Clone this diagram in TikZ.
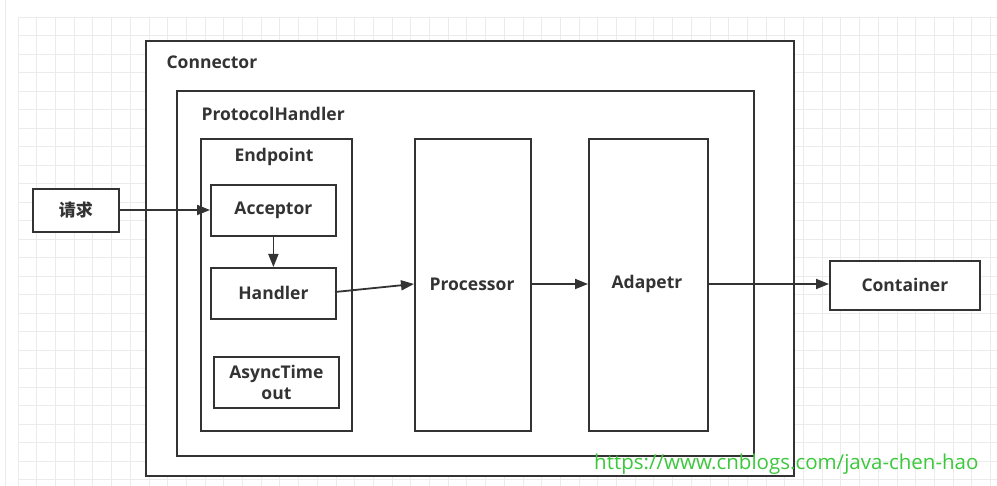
\documentclass[tikz,border=0pt]{standalone}
\usepackage{fontspec}
\setmainfont{Open Sans}
\newfontfamily\cjk{Noto Sans CJK SC}
\usetikzlibrary{arrows.meta}
\definecolor{gridc}{HTML}{EBEBEB}
\definecolor{urlg}{HTML}{3CC83C}
\definecolor{ink}{HTML}{333333}
\tikzset{
  box/.style={draw=ink,line width=1.8pt,fill=white,inner sep=0pt},
  lbl/.style={font=\fontsize{17.5}{20}\selectfont\bfseries,text=ink},
  conn/.style={draw=ink,line width=1.8pt,-{Triangle[length=13pt,width=10pt]}},
}
\begin{document}
\begin{tikzpicture}[x=1pt,y=-1pt]
\useasboundingbox (0,0) rectangle (997,486);
\fill[white] (0,0) rectangle (997,486);
% grid
\foreach \i in {0,...,52} {
  \pgfmathsetmacro{\xx}{18+\i*18.7}
  \draw[gridc,line width=0.8pt] (\xx,17) -- (\xx,486);
}
\foreach \j in {0,...,25} {
  \pgfmathsetmacro{\yy}{17+\j*18.5}
  \draw[gridc,line width=0.8pt] (18,\yy) -- (997,\yy);
}
\draw[gridc,line width=0.8pt] (5,0) -- (5,486);
% containers
\node[box,minimum width=648pt,minimum height=435pt,anchor=north west] (connector) at (145,40) {};
\node[lbl,anchor=west] (connlbl) at (163,62) {Connector};
\node[box,minimum width=577pt,minimum height=365pt,anchor=north west] (proto) at (176,90) {};
\node[lbl,anchor=west] (protolbl) at (198,114) {ProtocolHandler};
\node[box,minimum width=151pt,minimum height=292pt,anchor=north west] (endpoint) at (200,138) {};
\node[lbl] (endlbl) at (274,157) {Endpoint};
\node[box,minimum width=125pt,minimum height=51pt,anchor=north west] (acceptor) at (210,184) {};
\node[lbl] at (acceptor.center) {Acceptor};
\node[box,minimum width=125pt,minimum height=51pt,anchor=north west] (handler) at (210,267) {};
\node[lbl] at (handler.center) {Handler};
\node[box,minimum width=125pt,minimum height=51pt,anchor=north west] (async) at (213,356) {};
\node[lbl,align=center,font=\fontsize{17.5}{21}\selectfont\bfseries] at (async.center) {AsyncTime\\out};
\node[box,minimum width=116pt,minimum height=292pt,anchor=north west] (processor) at (414,138) {};
\node[lbl] at (472,284) {Processor};
\node[box,minimum width=119pt,minimum height=292pt,anchor=north west] (adapter) at (588,138) {};
\node[lbl] at (647,284) {Adapetr};
\node[box,minimum width=86pt,minimum height=43pt,anchor=north west] (req) at (32,188) {};
\node[lbl,font=\cjk\fontsize{17}{19}\selectfont\bfseries] at (req.center) {请求};
\node[box,minimum width=150pt,minimum height=49pt,anchor=north west] (container) at (829,260) {};
\node[lbl] at (container.center) {Container};
% connectors
\coordinate (accin) at (210,210);
\coordinate (procin) at (414,284);
\coordinate (hout) at (335,292);
\coordinate (adin) at (588,284);
\coordinate (procout) at (530,284);
\coordinate (adout) at (707,284);
\coordinate (contin) at (829,284);
\draw[conn] (req.east |- accin) -- (accin);
\draw[conn] (acceptor.south) -- (handler.north);
\draw[conn] (hout) -- (procin);
\draw[conn] (procout) -- (adin);
\draw[conn] (adout) -- (contin);
% url
\node[anchor=west,text=urlg,font=\fontsize{20.5}{22}\selectfont,inner sep=0pt] (url) at (594,464) {https://www.cnblogs.com/java-chen-hao};
\end{tikzpicture}
\end{document}
